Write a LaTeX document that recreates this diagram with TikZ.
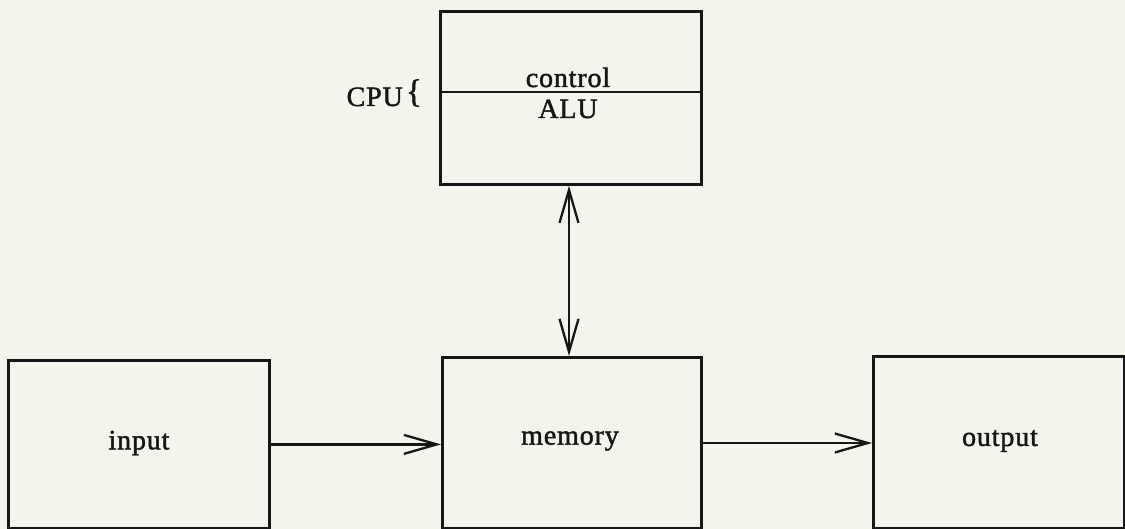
\documentclass[tikz,border=0pt]{standalone}
\usepackage{fontspec}
\setmainfont{Liberation Serif}[BoldFont={Liberation Serif},BoldFeatures={FakeBold=1.6,LetterSpace=3}]
\usetikzlibrary{arrows.meta}
\definecolor{paper}{RGB}{244,244,237}
\definecolor{ink}{RGB}{22,22,22}
\begin{document}
\begin{tikzpicture}[x=1pt,y=-1pt,
  box/.style={draw=ink,line width=2.8pt,rectangle,inner sep=0pt,anchor=north west},
  lbl/.style={font=\fontsize{28}{30}\selectfont\bfseries,text=ink,inner sep=0pt},
  conn/.style={draw=ink,line width=2.3pt,-{Straight Barb[length=33pt,width=19pt,line width=2.3pt]}},
  conn2/.style={draw=ink,line width=2.3pt,{Straight Barb[length=33pt,width=19pt,line width=2.3pt]}-{Straight Barb[length=33pt,width=19pt,line width=2.3pt]}}]
\fill[paper] (0,0) rectangle (1125,529);
\useasboundingbox (0,0) rectangle (1125,529);
% boxes
\node[box,minimum width=261pt,minimum height=173pt] (cpu) at (439,10) {};
\node[box,minimum width=261pt,minimum height=168pt] (in) at (7,359) {};
\node[box,minimum width=259pt,minimum height=171pt] (mem) at (441,356) {};
\node[box,minimum width=251pt,minimum height=172pt] (out) at (872,355) {};
% CPU divider
\coordinate (dl) at (439,92);
\coordinate (dr) at (700,92);
\draw[ink,line width=2.3pt] (dl) -- (dr);
% texts
\node[lbl,anchor=base] (ctl) at (568,87) {control};
\node[lbl,anchor=base] (alu) at (568,118) {ALU};
\node[lbl,anchor=base east] (cpul) at (403,106) {CPU};
\node[lbl,font=\fontsize{33}{35}\selectfont\bfseries,anchor=center] (br) at (414,93) {\{};
\node[lbl] (tin) at (139,443) {input};
\node[lbl] (tmem) at (570,441) {memory};
\node[lbl] (tout) at (1000,441) {output};
% connectors
\draw[conn2] (cpu.south -| 569,0) -- (mem.north -| 569,0);
\draw[conn] (in.east) -- (in.east -| mem.west);
\draw[conn] (mem.east |- 0,443) -- (out.west |- 0,443);
\end{tikzpicture}
\end{document}
